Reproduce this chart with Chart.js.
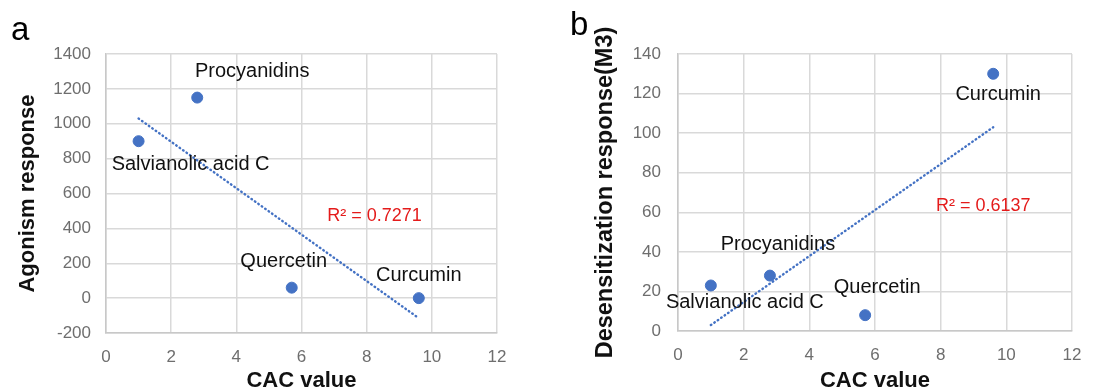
<!DOCTYPE html>
<html>
<head>
<meta charset="utf-8">
<script src="https://cdn.jsdelivr.net/npm/chart.js@4/dist/chart.umd.min.js"></script>
<style>
  body { margin: 0; background: #fff; }
  #wrap { position: relative; width: 1118px; height: 392px; }
  canvas { position: absolute; top: 0; }
  #chartA { left: 0; }
  #chartB { left: 560px; }
</style>
</head>
<body>
<div id="wrap">
  <canvas id="chartA" width="559" height="392"></canvas>
  <canvas id="chartB" width="558" height="392"></canvas>
</div>
<script>
// DATA
var compounds = ['Salvianolic acid C', 'Procyanidins', 'Quercetin', 'Curcumin'];
var cacValues = [1.0, 2.8, 5.7, 9.6];
var agonism = [900, 1150, 60, 0];
var desensitization = [23, 28, 8, 130];

// linear trendline ends as drawn in the figure
var agonismTrendX = [1.0, 9.6];
var agonismTrendY = [1030, -115];
var desensTrendX = [1.0, 9.6];
var desensTrendY = [3, 103];

var agonismR2 = 'R\u00b2 = 0.7271';
var desensR2 = 'R\u00b2 = 0.6137';

var FONT = '"Liberation Sans", Arial, sans-serif';
var BLUE = '#4472c4';

// draws compound names, R² and the panel letter
var notesPlugin = {
  id: 'notes',
  afterDatasetsDraw: function (c) {
    var o = c.options.plugins.notes;
    var ctx = c.ctx, xs = c.scales.x, ys = c.scales.y;
    ctx.save();
    ctx.textAlign = 'center';
    ctx.textBaseline = 'middle';
    ctx.font = '20px ' + FONT;
    ctx.fillStyle = '#111';
    o.names.forEach(function (n, i) {
      ctx.fillText(n,
        xs.getPixelForValue(o.xs[i]) + o.offsets[i][0],
        ys.getPixelForValue(o.ys[i]) + o.offsets[i][1]);
    });
    ctx.font = '18px ' + FONT;
    ctx.fillStyle = '#e41b1b';
    ctx.fillText(o.r2, xs.getPixelForValue(o.r2At[0]), ys.getPixelForValue(o.r2At[1]));
    ctx.textAlign = 'left';
    ctx.textBaseline = 'alphabetic';
    ctx.font = '33px ' + FONT;
    ctx.fillStyle = '#000';
    ctx.fillText(o.letter, o.letterAt[0], o.letterAt[1]);
    ctx.restore();
  }
};

function plainTick(v) { return String(v); } // no thousand separators

function makeChart(selector, cfg) {
  var pts = cacValues.map(function (x, i) { return { x: x, y: cfg.values[i] }; });
  var trend = cfg.trendX.map(function (x, i) { return { x: x, y: cfg.trendY[i] }; });

  return new Chart(document.getElementById(selector), {
    type: 'scatter',
    data: {
      datasets: [
        {
          data: trend,
          showLine: true,
          borderColor: BLUE,
          borderWidth: 2.4,
          borderCapStyle: 'round',
          borderDash: [0.6, 3.6],
          pointRadius: 0,
          order: 2
        },
        {
          data: pts,
          backgroundColor: BLUE,
          borderColor: BLUE,
          pointRadius: 5.5,
          order: 1
        }
      ]
    },
    options: {
      responsive: false,
      animation: false,
      devicePixelRatio: 1,
      layout: { padding: { top: 54, right: cfg.padRight, left: 0, bottom: 0 } },
      plugins: {
        legend: { display: false },
        tooltip: { enabled: false },
        notes: {
          names: compounds,
          xs: cacValues,
          ys: cfg.values,
          offsets: cfg.offsets,
          r2: cfg.r2,
          r2At: cfg.r2At,
          letter: cfg.letter,
          letterAt: cfg.letterAt
        }
      },
      scales: {
        x: {
          min: 0, max: 12,
          ticks: { stepSize: 2, color: '#6e6e6e', font: { family: FONT, size: 17 }, padding: 14, callback: plainTick },
          grid: { color: '#d9d9d9', lineWidth: 1.5, drawTicks: false },
          border: { color: '#c8c8c8', width: 1.5 },
          title: {
            display: true, text: 'CAC value', color: '#111',
            font: { family: FONT, size: 22, weight: 'bold', lineHeight: 1 },
            padding: { top: 0, bottom: 0 }
          },
          afterFit: function (s) { s.height = cfg.xHeight; }
        },
        y: {
          min: cfg.yMin, max: cfg.yMax,
          ticks: { stepSize: cfg.yStep, color: '#6e6e6e', font: { family: FONT, size: 17 }, padding: cfg.yTickPad, callback: plainTick },
          grid: { color: '#d9d9d9', lineWidth: 1.5, drawTicks: false },
          border: { color: '#c8c8c8', width: 1.5 },
          title: {
            display: true, text: cfg.yTitle, color: '#111',
            font: { family: FONT, size: cfg.yTitleSize, weight: 'bold', lineHeight: 1.2 },
            padding: { top: cfg.yTitlePad, bottom: 0 }
          },
          afterFit: function (s) { s.width = cfg.yWidth; }
        }
      }
    },
    plugins: [notesPlugin]
  });
}

makeChart('chartA', {
  values: agonism,
  trendX: agonismTrendX,
  trendY: agonismTrendY,
  yMin: -200, yMax: 1400, yStep: 200,
  yTitle: 'Agonism response',
  yTitleSize: 22, yTitlePad: 15,
  yWidth: 106, xHeight: 59, padRight: 62, yTickPad: 15,
  offsets: [[52, 23], [55, -26], [-8, -26], [0, -23]],
  r2: agonismR2, r2At: [8.24, 470],
  letter: 'a', letterAt: [11, 40]
});

makeChart('chartB', {
  values: desensitization,
  trendX: desensTrendX,
  trendY: desensTrendY,
  yMin: 0, yMax: 140, yStep: 20,
  yTitle: 'Desensitization response(M3)',
  yTitleSize: 23.5, yTitlePad: 31,
  yWidth: 118, xHeight: 61, padRight: 46, yTickPad: 17,
  offsets: [[34, 17], [8, -31], [12, -28], [5, 21]],
  r2: desensR2, r2At: [9.3, 63],
  letter: 'b', letterAt: [10, 35]
});
</script>
</body>
</html>
